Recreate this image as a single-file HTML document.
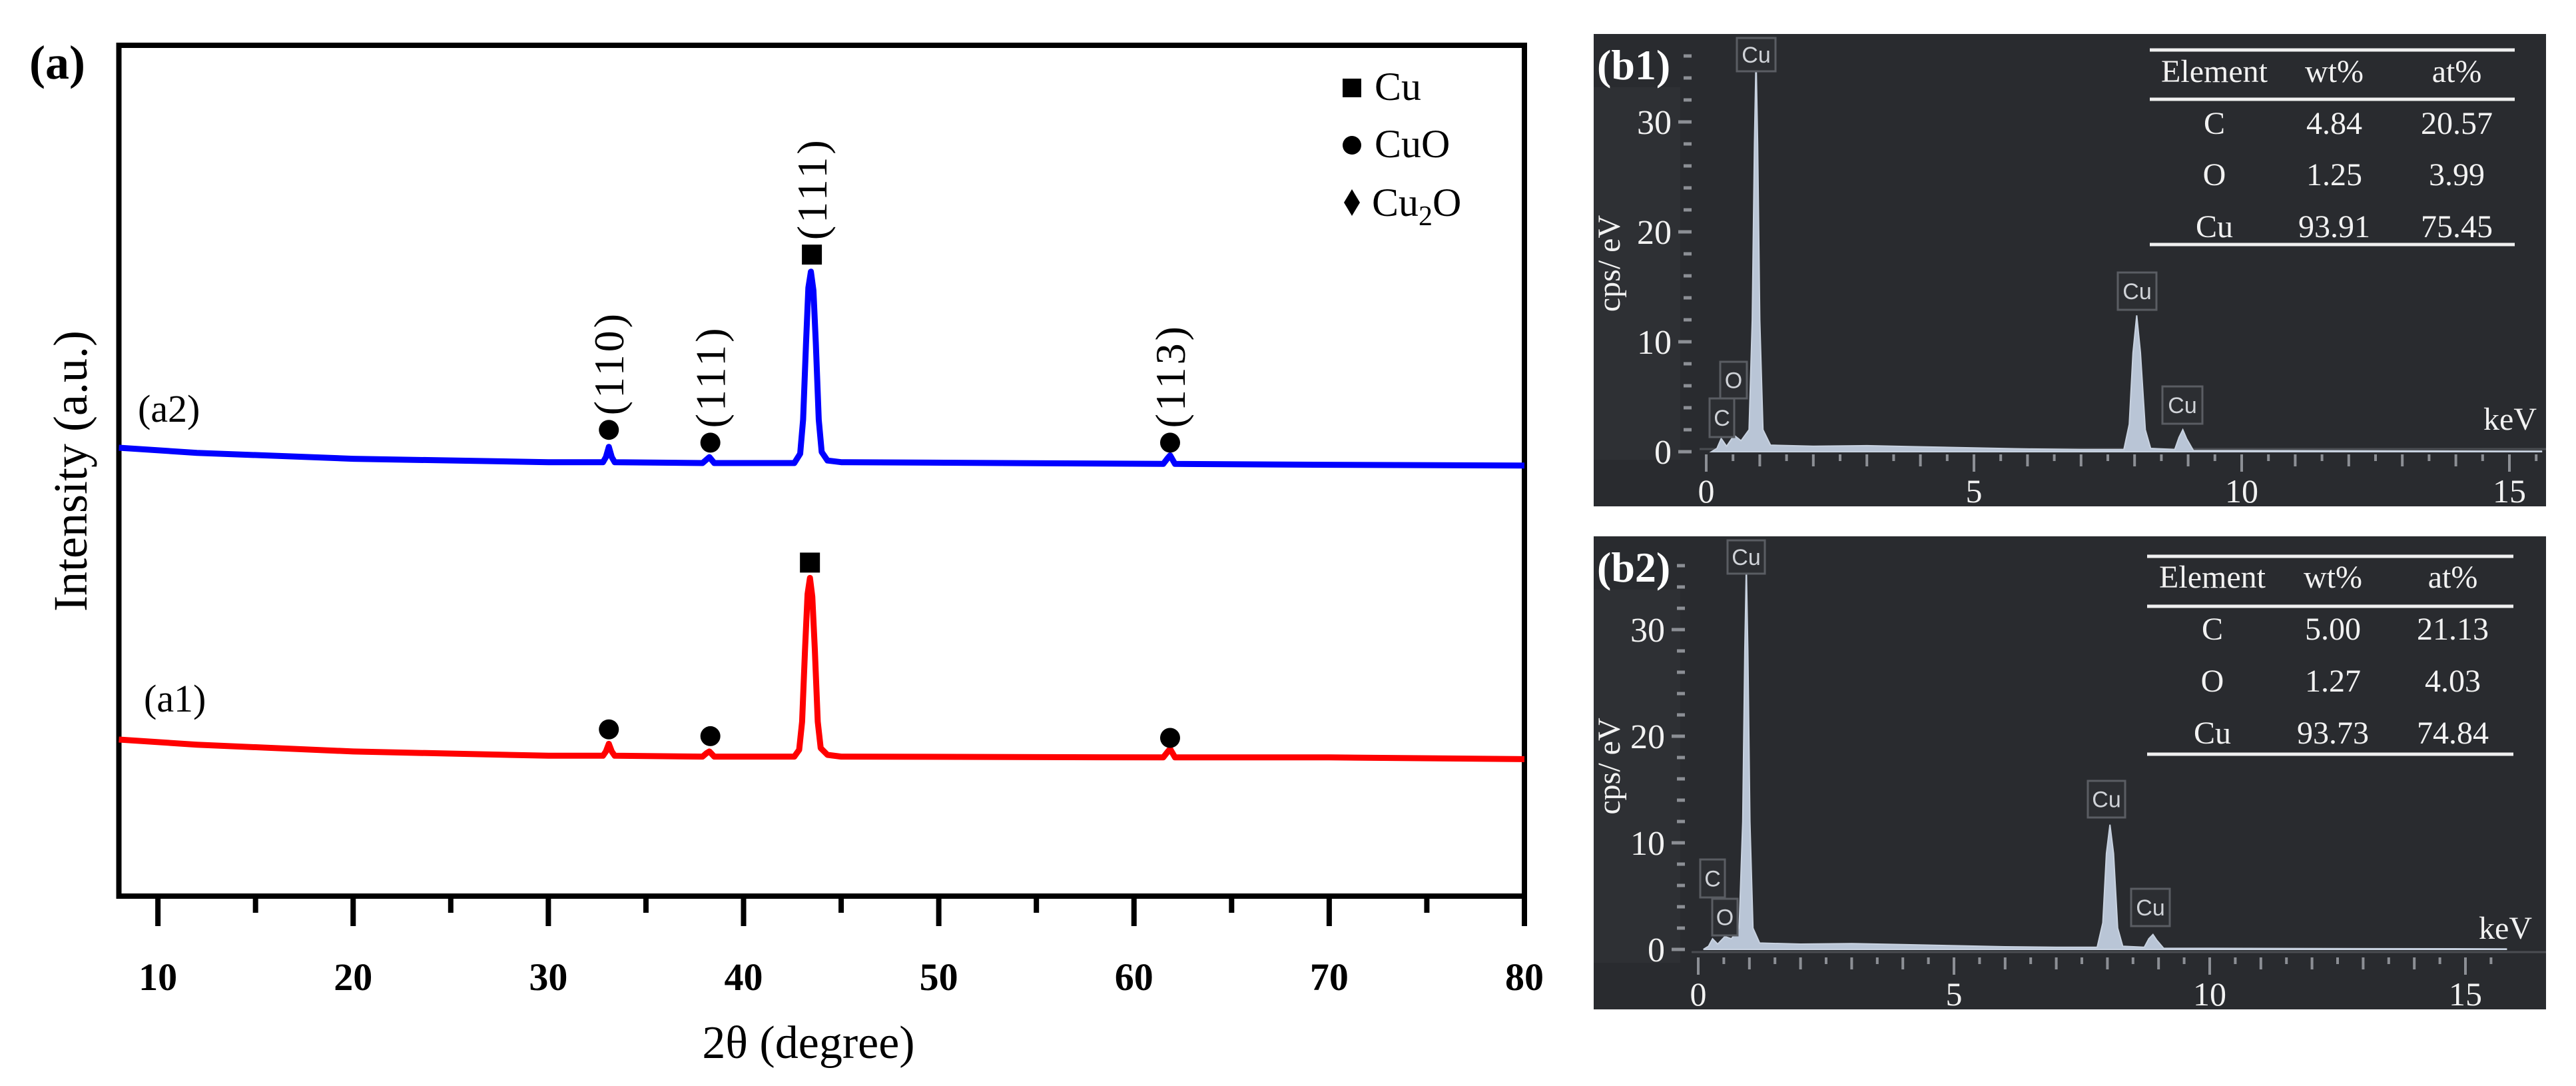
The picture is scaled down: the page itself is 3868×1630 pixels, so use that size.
<!DOCTYPE html>
<html><head><meta charset="utf-8">
<style>
html,body{margin:0;padding:0;background:#fff;}
svg{display:block;}
.serif{font-family:"Liberation Serif",serif;}
</style></head>
<body>
<svg id="fig" width="3868" height="1630" viewBox="0 0 3868 1630" xmlns="http://www.w3.org/2000/svg">
<g id="pa"></g>
<g id="pb1"></g>
<g id="pb2"></g>
</svg>
<script>
// ---------- Panel (a) XRD data ----------
const xrdTicks = [10,20,30,40,50,60,70,80];
const xrdMinorTicks = [15,25,35,45,55,65,75];
const blueX = [8,12,20,30,32.8,32.95,33.1,33.25,33.4,37.9,38.1,38.25,38.5,42.6,42.9,43.05,43.2,43.32,43.45,43.58,43.7,43.85,44.0,44.3,45,61.5,61.7,61.85,62.1,70,80];
const blueY = [527,521,514,510,510,516,528,516,510,509,513,516,509,509,520,560,650,715,734,712,650,560,522,512,510,508,514,518,508,507,506];
const redX = [8,12,20,30,32.8,32.95,33.1,33.25,33.4,37.9,38.1,38.25,38.5,42.6,42.85,43.0,43.15,43.28,43.4,43.52,43.65,43.8,43.95,44.3,45,61.5,61.7,61.85,62.1,70,80];
const redY = [184,178,170,165,165,170,179,170,165,164,168,170,164,164,172,205,290,355,374,352,290,205,174,166,164,163,169,173,163,163,161];
const blueMarkers = [[33.1,'circle',548,'(110)'],[38.3,'circle',533,'(111)'],[43.5,'square',754,'(111)'],[61.85,'circle',533,'(113)']];
const redMarkers = [[33.1,'circle',196],[38.3,'circle',188],[43.4,'square',392],[61.85,'circle',186]];

// ---------- Panel (b) EDS data ----------
const b1X = [0.1,0.2,0.28,0.38,0.52,0.65,0.8,0.86,0.9,0.93,0.96,1.0,1.06,1.2,2,3,4,5,6,7,7.8,7.9,7.97,8.04,8.11,8.2,8.3,8.75,8.83,8.9,8.97,9.1,10,15.6];
const b1Y = [0,0.3,1.2,0.5,1.5,1.0,2,12,28,36,28,12,2,0.6,0.5,0.55,0.45,0.35,0.25,0.2,0.2,2.5,9,12.4,9,2,0.3,0.2,1.3,2,1.2,0.1,0.1,0.05];
const b2X = [0.1,0.2,0.28,0.38,0.52,0.65,0.8,0.87,0.91,0.94,0.97,1.01,1.07,1.2,2,3,4,5,6,7,7.8,7.91,7.98,8.05,8.12,8.2,8.3,8.72,8.81,8.89,8.96,9.1,10,15.8];
const b2Y = [0,0.3,1.0,0.5,1.2,1.0,2,12,28,36,28,12,2,0.6,0.5,0.55,0.45,0.35,0.25,0.2,0.2,2.5,9,11.7,9,2,0.3,0.2,1.0,1.4,0.9,0.1,0.1,0.05];
const tableHead = ['Element','wt%','at%'];
const b1Rows = [['C','4.84','20.57'],['O','1.25','3.99'],['Cu','93.91','75.45']];
const b2Rows = [['C','5.00','21.13'],['O','1.27','4.03'],['Cu','93.73','74.84']];
const edsTicks = [0,5,10,15];
const edsYTicks = [0,10,20,30];

const NS='http://www.w3.org/2000/svg';
function mk(parent,tag,attrs,text){const e=document.createElementNS(NS,tag);for(const k in attrs)e.setAttribute(k,attrs[k]);if(text!==undefined)e.textContent=text;parent.appendChild(e);return e;}

// ---- panel a ----
const pa=document.getElementById('pa');
const AX0=178.5, AX1=2289, AY0=1345, AY1=68;
const ax = v => AX0 + (v-8)/(80-8)*(AX1-AX0);
const ay = v => AY0 - v*1.277;
let e;
e=mk(pa,'rect',{x:AX0,y:AY1,width:AX1-AX0,height:AY0-AY1,fill:'none',stroke:'#000','stroke-width':8});


xrdTicks.forEach(t=>{
  e=mk(pa,'line',{x1:ax(t),x2:ax(t),y1:AY0,y2:AY0+45,stroke:'#000','stroke-width':8});
  
  
  e=mk(pa,'text',{x:ax(t),y:1486,'text-anchor':'middle','font-size':58,'font-weight':'bold',class:'serif'},String(t));
  
  
});
xrdMinorTicks.forEach(t=>{
  e=mk(pa,'line',{x1:ax(t),x2:ax(t),y1:AY0,y2:AY0+25,stroke:'#000','stroke-width':8});
  
  
});
e=mk(pa,'text',{x:1214,y:1588,'text-anchor':'middle','font-size':70,class:'serif'},'2θ (degree)');


e=mk(pa,'text',{x:0,y:0,'text-anchor':'middle','font-size':72,class:'serif',transform:'translate(130,707) rotate(-90)'},'Intensity (a.u.)');


e=mk(pa,'text',{x:44,y:118,'font-size':72,'font-weight':'bold',class:'serif'},'(a)');


function series(xs,ys,color,name){
  const d=xs.map((x,i)=>(i?'L':'M')+ax(x).toFixed(1)+','+ay(ys[i]).toFixed(1)).join('');
  const p=mk(pa,'path',{d:d,fill:'none',stroke:color,'stroke-width':9,'stroke-linejoin':'round'});
  
  
}
series(redX,redY,'#ff0000','series-a1');
series(blueX,blueY,'#0000ff','series-a2');
function marker(x,type,v,nm){
  let m;
  if(type==='circle') m=mk(pa,'circle',{cx:ax(x),cy:ay(v),r:15,fill:'#000'});
  else m=mk(pa,'rect',{x:ax(x)-15,y:ay(v)-15,width:30,height:30,fill:'#000'});
  
  
}
blueMarkers.forEach(m=>{
  marker(m[0],m[1],m[2],'phase-marker-a2');
  const t=mk(pa,'text',{x:0,y:0,'font-size':64,'letter-spacing':4,class:'serif',transform:`translate(${ax(m[0])+22},${ay(m[2])-22}) rotate(-90)`},m[3]);
  
  
});
redMarkers.forEach(m=>marker(m[0],m[1],m[2],'phase-marker-a1'));
e=mk(pa,'text',{x:207,y:633,'font-size':58,class:'serif'},'(a2)');


e=mk(pa,'text',{x:216,y:1068,'font-size':58,class:'serif'},'(a1)');


// legend
e=mk(pa,'rect',{x:2016,y:118,width:28,height:28,fill:'#000'});


e=mk(pa,'text',{x:2064,y:150,'font-size':60,class:'serif'},'Cu');


e=mk(pa,'circle',{cx:2030,cy:218,r:14,fill:'#000'});


e=mk(pa,'text',{x:2064,y:236,'font-size':60,class:'serif'},'CuO');


e=mk(pa,'polygon',{points:'2030,284 2042,304 2030,324 2018,304',fill:'#000'});


e=mk(pa,'text',{x:2060,y:324,'font-size':60,class:'serif'});
e.innerHTML='Cu<tspan font-size="42" dy="14">2</tspan><tspan dy="-14">O</tspan>';



// ---- panel b ----
function edsPanel(g,cfg){
  const {top,bottom,x0px,keVpx,y0px,cpspx,xs,ys,rows,labels,tbl,tag,kev,tickX,axisY} = cfg;
  const L=2393,R=3823;
  const px=v=>x0px+v*keVpx, py=v=>y0px-v*cpspx;
  let e=mk(g,'rect',{x:L,y:top,width:R-L,height:bottom-top,fill:'#292b2f'});
  
  
  e=mk(g,'rect',{x:L,y:top+80,width:130,height:bottom-top-150,fill:'#2e3034'});
  
  
  for(let v=0;v<=36;v+=2){
    const major=v%10===0;
    e=mk(g,'line',{x1:major?tickX-20:tickX-12,x2:tickX,y1:py(v),y2:py(v),stroke:'#8c8f95','stroke-width':5});
    
    
  }
  edsYTicks.forEach(v=>{
    e=mk(g,'text',{x:tickX-30,y:py(v)+18,'text-anchor':'end','font-size':52,fill:'#f2f2f2',class:'serif'},String(v));
    
    
  });
  e=mk(g,'text',{x:0,y:0,'text-anchor':'middle','font-size':48,fill:'#f2f2f2',class:'serif',transform:`translate(2432,${(top+bottom)/2-10}) rotate(-90)`},'cps/ eV');
  
  
  e=mk(g,'line',{x1:px(0)-10,x2:R,y1:axisY,y2:axisY,stroke:'#4a4d52','stroke-width':3});
  
  
  for(let v=0;v<=15.5;v+=0.5){
    const len = v%5===0?26:(v%1===0?18:10);
    e=mk(g,'line',{x1:px(v),x2:px(v),y1:axisY+8,y2:axisY+8+len,stroke:'#8c8f95','stroke-width':4});
    
    
  }
  edsTicks.forEach(v=>{
    e=mk(g,'text',{x:px(v),y:axisY+80,'text-anchor':'middle','font-size':50,fill:'#f2f2f2',class:'serif'},String(v));
    
    
  });
  e=mk(g,'text',{x:kev[0],y:kev[1],'text-anchor':'middle','font-size':48,fill:'#f2f2f2',class:'serif'},'keV');
  
  
  let d='M'+px(xs[0])+','+py(0);
  xs.forEach((x,i)=>{d+='L'+px(x).toFixed(1)+','+py(ys[i]).toFixed(1);});
  d+='L'+px(xs[xs.length-1])+','+py(0)+'Z';
  e=mk(g,'path',{d:d,fill:'#b9c5d6',stroke:'#c8d2e0','stroke-width':2});
  
  
  labels.forEach(l=>{
    const b=mk(g,'rect',{x:l[0],y:l[1],width:l[2],height:l[3],fill:'#2c2e32',stroke:'#5a5d63','stroke-width':3});
    
    
    const t=mk(g,'text',{x:l[0]+l[2]/2,y:l[1]+l[3]/2+12,'text-anchor':'middle','font-size':34,fill:'#d0d3d8','font-family':'"Liberation Sans",sans-serif'},l[4]);
    
    
  });
  const [tx0,tx1,ly,hy,ry,cols]=tbl;
  ly.forEach(y=>{
    e=mk(g,'line',{x1:tx0,x2:tx1,y1:y,y2:y,stroke:'#f0f0f0','stroke-width':5});
    
    
  });
  tableHead.forEach((h,i)=>{
    e=mk(g,'text',{x:cols[i],y:hy,'text-anchor':'middle','font-size':48,fill:'#f2f2f2',class:'serif'},h);
    
    
  });
  rows.forEach((r,j)=>r.forEach((c,i)=>{
    e=mk(g,'text',{x:cols[i],y:ry[j],'text-anchor':'middle','font-size':48,fill:'#f2f2f2',class:'serif'},c);
    
    
  }));
  e=mk(g,'text',{x:2398,y:top+68,'font-size':64,'font-weight':'bold',fill:'#ffffff',class:'serif'},tag);
  
  
}
edsPanel(document.getElementById('pb1'),{top:51,bottom:760,x0px:2562,keVpx:80.4,y0px:678,cpspx:16.5,xs:b1X,ys:b1Y,rows:b1Rows,
  labels:[[2608,57,58,50,'Cu'],[2583,543,40,55,'O'],[2567,598,37,58,'C'],[3180,409,58,56,'Cu'],[3247,580,60,56,'Cu']],
  tbl:[3228,3776,[75,149,367],123,[201,278,356],[3325,3505,3689]],tag:'(b1)',kev:[3769,645],tickX:2540,axisY:674});
edsPanel(document.getElementById('pb2'),{top:805,bottom:1515,x0px:2550,keVpx:76.8,y0px:1425,cpspx:16.0,xs:b2X,ys:b2Y,rows:b2Rows,
  labels:[[2594,811,56,50,'Cu'],[2553,1290,37,57,'C'],[2571,1349,38,55,'O'],[3135,1172,56,55,'Cu'],[3200,1334,58,56,'Cu']],
  tbl:[3224,3774,[835,910,1132],882,[960,1038,1116],[3322,3503,3683]],tag:'(b2)',kev:[3762,1409],tickX:2530,axisY:1429});
</script>
</body></html>
